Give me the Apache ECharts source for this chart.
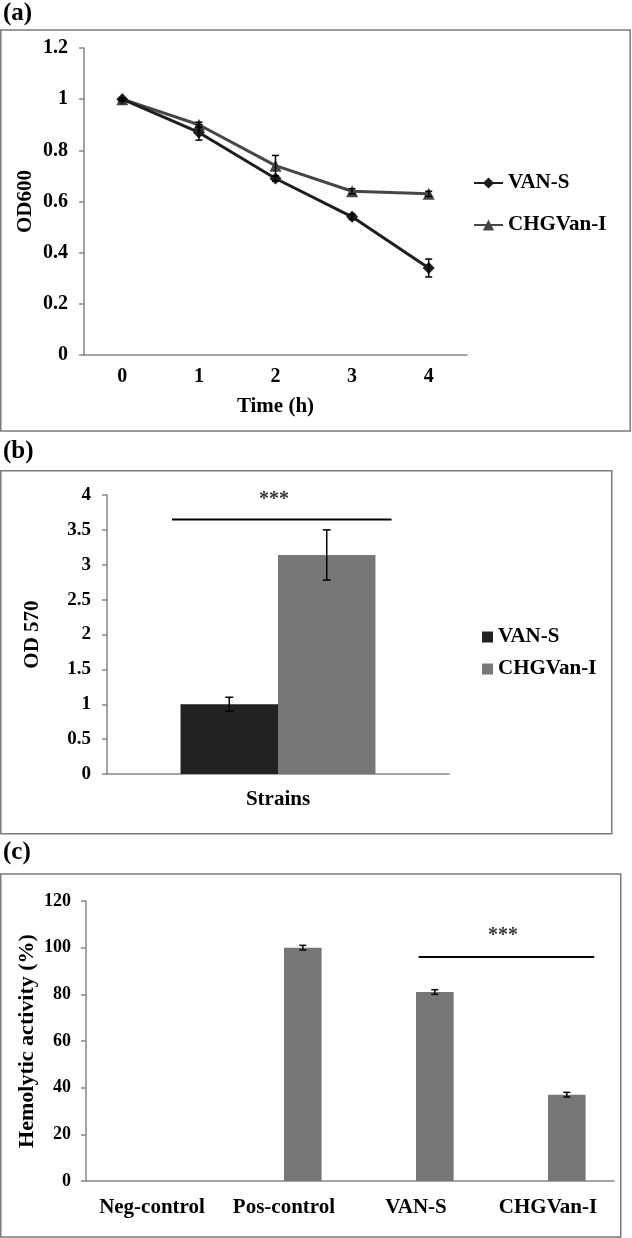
<!DOCTYPE html>
<html>
<head>
<meta charset="utf-8">
<script src="https://cdn.jsdelivr.net/npm/echarts@6/dist/echarts.min.js"></script>
<style>
  html, body { margin: 0; padding: 0; background: #fff; }
  #chart { width: 632px; height: 1238px; }
</style>
</head>
<body>
<div id="chart"></div>
<script>
// ---------- Panel (a): OD600 over time ----------
const timeLabels = ['0', '1', '2', '3', '4'];
const vanS_OD600 = [1.0, 0.87, 0.69, 0.54, 0.34];
const vanS_OD600_err = [0.005, 0.03, 0.01, 0.01, 0.035];
const chg_OD600 = [1.0, 0.90, 0.74, 0.64, 0.63];
const chg_OD600_err = [0.005, 0.01, 0.04, 0.01, 0.01];

// ---------- Panel (b): OD570 ----------
const strainCats = ['Strains'];
const vanS_OD570 = [1.0];
const vanS_OD570_err = [0.1];
const chg_OD570 = [3.14];
const chg_OD570_err = [0.36];
const sigB_x = [0.19, 0.832];   // fraction of category band
const sigB_y = 3.65;
const sigB_text = [0.488, 3.93];

// ---------- Panel (c): Hemolytic activity ----------
const hemoCats = ['Neg-control', 'Pos-control', 'VAN-S', 'CHGVan-I'];
const hemoValues = [0, 100, 81, 37];
const hemoErr = [0, 1, 1, 1];
const sigC_x = [2.52, 3.85];    // in category units
const sigC_y = 96;
const sigC_text = [3.16, 105];

const FONT = '"Liberation Serif", "Times New Roman", serif';
const AXIS_COLOR = '#868686';
const FRAME_COLOR = '#7a7a7a';

function errRender(capHalf, offsetFrac) {
  return function (params, api) {
    const xi = api.value(0), m = api.value(1), e = api.value(2);
    if (!e) return null;
    const band = api.size([1, 0])[0];
    const off = offsetFrac * band;
    const top = api.coord([xi, m + e]);
    const bot = api.coord([xi, m - e]);
    const x = top[0] + off;
    const st = { stroke: '#000', lineWidth: 1.5 };
    return {
      type: 'group',
      children: [
        { type: 'line', shape: { x1: x, y1: top[1], x2: x, y2: bot[1] }, style: st },
        { type: 'line', shape: { x1: x - capHalf, y1: top[1], x2: x + capHalf, y2: top[1] }, style: st },
        { type: 'line', shape: { x1: x - capHalf, y1: bot[1], x2: x + capHalf, y2: bot[1] }, style: st }
      ]
    };
  };
}

function txt(size) {
  return { color: '#000', fontFamily: FONT, fontWeight: 'bold', fontSize: size };
}

function catAxis(grid, data, margin, size, extra) {
  return Object.assign({
    type: 'category', gridIndex: grid, data: data, boundaryGap: true,
    axisLine: { lineStyle: { color: AXIS_COLOR, width: 1.5 } },
    axisTick: { show: false },
    axisLabel: Object.assign({ margin: margin, interval: 0, hideOverlap: false }, txt(size)),
    splitLine: { show: false },
    nameMoveOverlap: false
  }, extra || {});
}
function valAxis(grid, min, max, interval, margin, size, extra) {
  return Object.assign({
    type: 'value', gridIndex: grid, min: min, max: max, interval: interval,
    axisLine: { show: true, lineStyle: { color: AXIS_COLOR, width: 1.5 } },
    axisTick: { show: true, inside: false, length: 5, lineStyle: { color: AXIS_COLOR, width: 1.5 } },
    axisLabel: Object.assign({ margin: margin }, txt(size)),
    splitLine: { show: false },
    nameMoveOverlap: false
  }, extra || {});
}
function hiddenVal(grid, min, max) {
  return { type: 'value', gridIndex: grid, min: min, max: max, show: false,
           axisLine: { show: false }, splitLine: { show: false } };
}

const option = {
  animation: false,
  backgroundColor: '#fff',
  textStyle: { fontFamily: FONT },
  graphic: [
    { type: 'rect', shape: { x: 0.75, y: 30, width: 629.5, height: 401 }, style: { fill: 'none', stroke: FRAME_COLOR, lineWidth: 1.5 } },
    { type: 'rect', shape: { x: 0.75, y: 470.75, width: 611, height: 363 }, style: { fill: 'none', stroke: FRAME_COLOR, lineWidth: 1.5 } },
    { type: 'rect', shape: { x: 0.75, y: 874, width: 620, height: 363 }, style: { fill: 'none', stroke: FRAME_COLOR, lineWidth: 1.5 } },
    { type: 'text', left: 3, top: 1, style: { text: '(a)', fill: '#000', font: 'bold 25px ' + FONT } },
    { type: 'text', left: 3, top: 439, style: { text: '(b)', fill: '#000', font: 'bold 25px ' + FONT } },
    { type: 'text', left: 3, top: 840, style: { text: '(c)', fill: '#000', font: 'bold 25px ' + FONT } }
  ],
  grid: [
    { left: 84, top: 48, width: 383, height: 307 },
    { left: 107, top: 495, width: 342, height: 279 },
    { left: 86, top: 901, width: 528, height: 280 }
  ],
  legend: [
    {
      data: ['VAN-S', 'CHGVan-I'],
      orient: 'vertical', left: 468, top: 167,
      itemWidth: 29, itemHeight: 14, itemGap: 20,
      textStyle: Object.assign({ lineHeight: 22 }, txt(21)),
      selectedMode: false
    },
    {
      data: ['VAN-S (b)', 'CHGVan-I (b)'],
      orient: 'vertical', left: 477, top: 621,
      icon: 'rect', itemWidth: 11, itemHeight: 11, itemGap: 10,
      formatter: function (n) { return n.replace(' (b)', ''); },
      textStyle: Object.assign({ lineHeight: 22 }, txt(21)),
      selectedMode: false
    }
  ],
  xAxis: [
    catAxis(0, timeLabels, 12, 20, { name: 'Time (h)', nameLocation: 'middle', nameGap: 41, nameTextStyle: txt(21) }),
    catAxis(1, strainCats, 15, 21),
    hiddenVal(1, 0, 1),
    catAxis(2, hemoCats, 16, 21),
    hiddenVal(2, 0, 4)
  ],
  yAxis: [
    valAxis(0, 0, 1.2, 0.2, 16, 20, { name: 'OD600', nameLocation: 'middle', nameGap: 48, nameTextStyle: txt(21) }),
    valAxis(1, 0, 4, 0.5, 16, 19, { name: 'OD 570', nameLocation: 'middle', nameGap: 64, nameTextStyle: txt(21) }),
    valAxis(2, 0, 120, 20, 15, 18, { name: 'Hemolytic activity (%)', nameLocation: 'middle', nameGap: 48, nameTextStyle: txt(22) })
  ],
  series: [
    // ---- (a)
    {
      name: 'VAN-S', type: 'line', xAxisIndex: 0, yAxisIndex: 0,
      data: vanS_OD600, symbol: 'diamond', symbolSize: 12,
      itemStyle: { color: '#1e1e1e' }, lineStyle: { color: '#1e1e1e', width: 3 }, z: 3
    },
    {
      name: 'CHGVan-I', type: 'line', xAxisIndex: 0, yAxisIndex: 0,
      data: chg_OD600, symbol: 'triangle', symbolSize: 12,
      itemStyle: { color: '#464646' }, lineStyle: { color: '#464646', width: 3 }, z: 2
    },
    {
      name: 'errA1', type: 'custom', xAxisIndex: 0, yAxisIndex: 0,
      renderItem: errRender(3.5, 0), encode: { x: 0, y: 1 }, z: 4,
      data: vanS_OD600.map((v, i) => [i, v, vanS_OD600_err[i]])
    },
    {
      name: 'errA2', type: 'custom', xAxisIndex: 0, yAxisIndex: 0,
      renderItem: errRender(3.5, 0), encode: { x: 0, y: 1 }, z: 4,
      data: chg_OD600.map((v, i) => [i, v, chg_OD600_err[i]])
    },
    // ---- (b)
    {
      name: 'VAN-S (b)', type: 'bar', xAxisIndex: 1, yAxisIndex: 1,
      data: vanS_OD570, barGap: '0%', barCategoryGap: '43%',
      itemStyle: { color: '#222222' }
    },
    {
      name: 'CHGVan-I (b)', type: 'bar', xAxisIndex: 1, yAxisIndex: 1,
      data: chg_OD570, barGap: '0%', barCategoryGap: '43%',
      itemStyle: { color: '#777777' }
    },
    {
      name: 'errB1', type: 'custom', xAxisIndex: 1, yAxisIndex: 1,
      renderItem: errRender(4, -0.1425), encode: { x: 0, y: 1 }, z: 4,
      data: vanS_OD570.map((v, i) => [i, v, vanS_OD570_err[i]])
    },
    {
      name: 'errB2', type: 'custom', xAxisIndex: 1, yAxisIndex: 1,
      renderItem: errRender(4, 0.1425), encode: { x: 0, y: 1 }, z: 4,
      data: chg_OD570.map((v, i) => [i, v, chg_OD570_err[i]])
    },
    {
      name: 'sigB', type: 'line', xAxisIndex: 2, yAxisIndex: 1, silent: true,
      data: sigB_x.map(x => [x, sigB_y]), symbol: 'none',
      lineStyle: { color: '#000', width: 2 }
    },
    {
      name: 'sigBText', type: 'scatter', xAxisIndex: 2, yAxisIndex: 1, silent: true,
      data: [sigB_text], symbolSize: 0,
      label: Object.assign({ show: true, position: 'inside', formatter: '***' }, txt(20))
    },
    // ---- (c)
    {
      name: 'spacer', type: 'bar', xAxisIndex: 3, yAxisIndex: 2,
      data: hemoCats.map(() => null), barGap: '0%', barCategoryGap: '43%'
    },
    {
      name: 'Hemolytic', type: 'bar', xAxisIndex: 3, yAxisIndex: 2,
      data: hemoValues, barGap: '0%', barCategoryGap: '43%',
      itemStyle: { color: '#767676' }
    },
    {
      name: 'errC', type: 'custom', xAxisIndex: 3, yAxisIndex: 2,
      renderItem: errRender(3.5, 0.1425), encode: { x: 0, y: 1 }, z: 4,
      data: hemoValues.map((v, i) => [i, v, hemoErr[i]])
    },
    {
      name: 'sigC', type: 'line', xAxisIndex: 4, yAxisIndex: 2, silent: true,
      data: sigC_x.map(x => [x, sigC_y]), symbol: 'none',
      lineStyle: { color: '#000', width: 2 }
    },
    {
      name: 'sigCText', type: 'scatter', xAxisIndex: 4, yAxisIndex: 2, silent: true,
      data: [sigC_text], symbolSize: 0,
      label: Object.assign({ show: true, position: 'inside', formatter: '***' }, txt(20))
    }
  ]
};

const chart = echarts.init(document.getElementById('chart'), null, { renderer: 'canvas', width: 632, height: 1238 });
chart.setOption(option);
</script>
</body>
</html>
